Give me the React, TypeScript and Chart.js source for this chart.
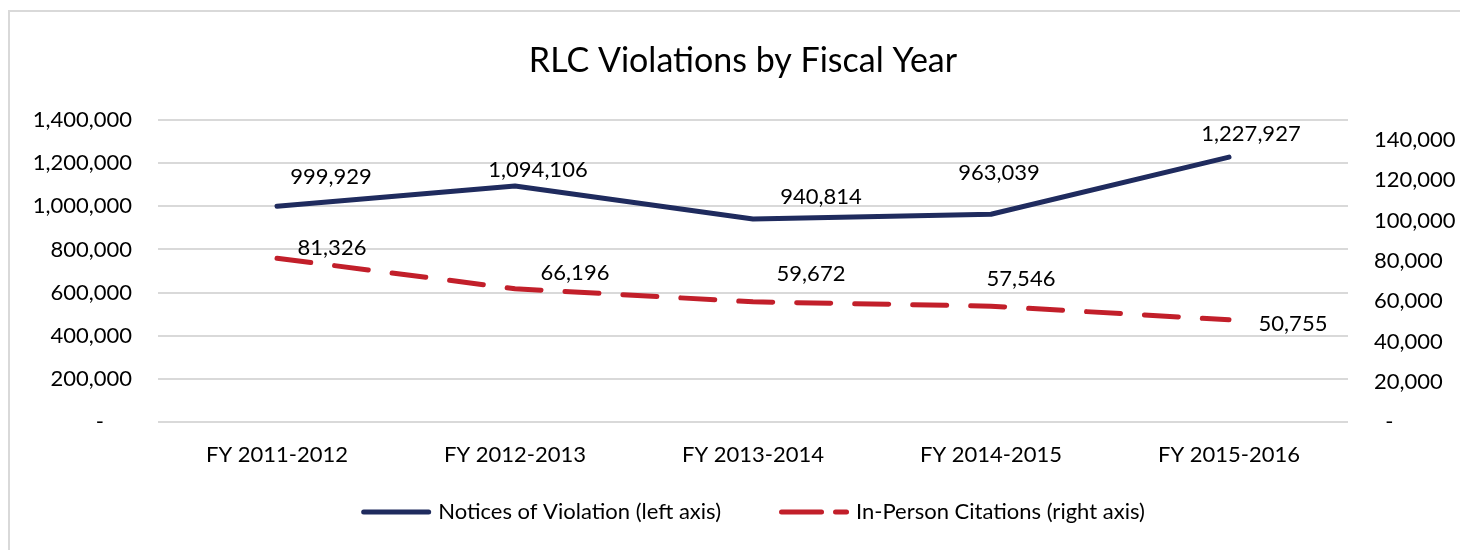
import React, { useEffect, useRef } from 'react';
import { Chart, registerables } from 'chart.js';

Chart.register(...registerables);

// ---- data ----
const categories = ['FY 2011-2012', 'FY 2012-2013', 'FY 2013-2014', 'FY 2014-2015', 'FY 2015-2016'];
const noticesOfViolation = [999929, 1094106, 940814, 963039, 1227927];
const inPersonCitations = [81326, 66196, 59672, 57546, 50755];
const leftAxisTicks = [0, 200000, 400000, 600000, 800000, 1000000, 1200000, 1400000];
const rightAxisTicks = [0, 20000, 40000, 60000, 80000, 100000, 120000, 140000];
const leftAxisMax = 1400000;
const rightAxisMax = 150000;
const seriesNames = ['Notices of Violation (left axis)', 'In-Person Citations (right axis)'];
const titleText = 'RLC Violations by Fiscal Year';

// ---- styling ----
const FONT = 'Lato, "Open Sans", sans-serif';
const BLUE = '#1F2B5E';
const RED = '#C21F2A';
const GRID = '#D9D9D9';
const TEXT = '#000000';
const DASH = [34, 24];
// label offsets (px) relative to each point, as placed in the original
const noticesLabelOffsets = [[54, -29], [23, -16], [68, -22], [8, -41], [22, -23]];
const citationsLabelOffsets = [[55, -10], [60, -16], [58, -28], [30, -27], [64, 4]];

const fmt = (v: number) => v.toLocaleString('en-US');

const overlayPlugin = {
  id: 'overlay',
  afterDatasetsDraw(chart: any) {
    const ctx = chart.ctx as CanvasRenderingContext2D;
    ctx.save();
    ctx.font = `22px ${FONT}`;
    ctx.fillStyle = TEXT;
    ctx.textAlign = 'center';
    ctx.textBaseline = 'middle';
    chart.data.datasets.forEach((ds: any, di: number) => {
      const meta = chart.getDatasetMeta(di);
      const offs = di === 0 ? noticesLabelOffsets : citationsLabelOffsets;
      meta.data.forEach((pt: any, i: number) => {
        ctx.fillText(fmt(ds.data[i]), pt.x + offs[i][0], pt.y + offs[i][1]);
      });
    });
    ctx.restore();
  },
  afterDraw(chart: any) {
    const ctx = chart.ctx as CanvasRenderingContext2D;
    const area = chart.chartArea;
    ctx.save();
    // title
    ctx.font = `34px ${FONT}`;
    ctx.fillStyle = TEXT;
    ctx.textAlign = 'center';
    ctx.textBaseline = 'middle';
    ctx.fillText(titleText, chart.width / 2 + 4, 49);

    // legend
    ctx.font = `22px ${FONT}`;
    const sample = 70;
    const gapText = 7;
    const gapItems = 58;
    const w0 = ctx.measureText(seriesNames[0]).width;
    const w1 = ctx.measureText(seriesNames[1]).width;
    const total = sample + gapText + w0 + gapItems + sample + gapText + w1;
    let x = (area.left + area.right) / 2 - total / 2;
    const y = 500;
    const items = [
      { name: seriesNames[0], color: BLUE, dash: [] as number[], w: w0 },
      { name: seriesNames[1], color: RED, dash: [40, 14], w: w1 },
    ];
    items.forEach((it) => {
      ctx.beginPath();
      ctx.strokeStyle = it.color;
      ctx.lineWidth = 5;
      ctx.lineCap = 'round';
      ctx.setLineDash(it.dash);
      ctx.moveTo(x + 2.5, y);
      ctx.lineTo(x + sample - 2.5, y);
      ctx.stroke();
      ctx.setLineDash([]);
      ctx.fillStyle = TEXT;
      ctx.textAlign = 'left';
      ctx.fillText(it.name, x + sample + gapText, y);
      x += sample + gapText + it.w + gapItems;
    });
    ctx.restore();
  },
};

export default function App() {
  const ref = useRef<HTMLCanvasElement | null>(null);

  useEffect(() => {
    if (!ref.current) return;
    const chart = new Chart(ref.current, {
      type: 'line',
      data: {
        labels: categories,
        datasets: [
          {
            label: seriesNames[0],
            data: noticesOfViolation,
            borderColor: BLUE,
            backgroundColor: BLUE,
            borderWidth: 5,
            pointRadius: 0,
            tension: 0,
            borderCapStyle: 'round',
            borderJoinStyle: 'round',
            yAxisID: 'y',
          },
          {
            label: seriesNames[1],
            data: inPersonCitations,
            borderColor: RED,
            backgroundColor: RED,
            borderWidth: 5,
            borderDash: DASH,
            pointRadius: 0,
            tension: 0,
            borderCapStyle: 'round',
            borderJoinStyle: 'round',
            yAxisID: 'y1',
          },
        ],
      },
      options: {
        responsive: false,
        animation: false,
        layout: { padding: { top: 108, left: 0, right: 0, bottom: 0 } },
        plugins: {
          legend: { display: false },
          title: { display: false },
          tooltip: { enabled: false },
        },
        scales: {
          x: {
            offset: true,
            grid: { display: false, drawTicks: false },
            border: { display: false },
            ticks: { color: TEXT, font: { family: FONT, size: 22 }, padding: 20, maxRotation: 0 },
            afterFit: (s: any) => { s.height = 130; },
          },
          y: {
            position: 'left',
            min: 0,
            max: leftAxisMax,
            grid: { color: GRID, lineWidth: 2, drawTicks: false },
            border: { display: false },
            ticks: {
              color: TEXT,
              font: { family: FONT, size: 22 },
              padding: 26,
              callback: (v: any) => (Number(v) === 0 ? '-     ' : fmt(Number(v))),
            },
            afterBuildTicks: (s: any) => {
              s.ticks = leftAxisTicks.map((v) => ({ value: v }));
            },
            afterFit: (s: any) => { s.width = 148; },
          },
          y1: {
            position: 'right',
            min: 0,
            max: rightAxisMax,
            grid: { display: false, drawTicks: false },
            border: { display: false },
            ticks: {
              color: TEXT,
              font: { family: FONT, size: 22 },
              padding: 26,
              callback: (v: any) => (Number(v) === 0 ? '  -' : fmt(Number(v))),
            },
            afterBuildTicks: (s: any) => {
              s.ticks = rightAxisTicks.map((v) => ({ value: v }));
            },
            afterFit: (s: any) => { s.width = 120; },
          },
        },
      } as any,
      plugins: [overlayPlugin],
    });
    return () => chart.destroy();
  }, []);

  return (
    <div
      style={{
        marginTop: 2,
        width: 1458,
        height: 538,
        borderLeft: `2px solid ${GRID}`,
        borderTop: `2px solid ${GRID}`,
        overflow: 'hidden',
      }}
    >
      <canvas ref={ref} width={1458} height={540} style={{ display: 'block' }} />
    </div>
  );
}
